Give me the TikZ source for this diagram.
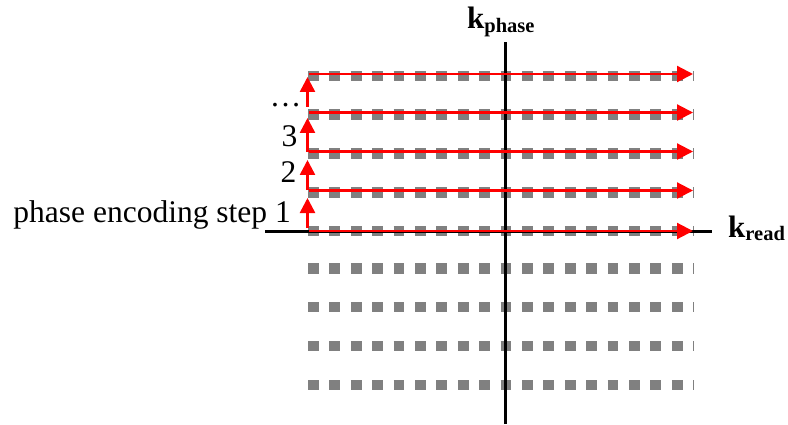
\documentclass[tikz,border=0pt]{standalone}
\usepackage{fontspec}
\setmainfont{Liberation Serif}
\usetikzlibrary{arrows.meta,calc}

\tikzset{
  samplerow/.style={draw=black!50, line width=10.6pt, dash pattern=on 10.7pt off 10.7pt},
  axisline/.style={draw=black, line width=3pt},
  scanline/.style={draw=red, line width=2.2pt, -{Triangle[length=16pt,width=16pt]}},
  stepline/.style={draw=red, line width=2.5pt, -{Triangle[length=15pt,width=15pt]}},
  steplabel/.style={inner sep=0pt, font=\fontsize{31.5}{34}\selectfont},
  axislabel/.style={inner sep=0pt, anchor=base west, font=\fontsize{31}{34}\selectfont\bfseries},
}
\newcommand{\subtext}[1]{\raisebox{-3.5pt}{\fontsize{20.5}{22}\selectfont #1}}

\begin{document}
\begin{tikzpicture}[x=1pt,y=1pt]
\useasboundingbox (0,0) rectangle (788,424);

% grid of k-space sample rows (row 0 lies on the read axis)
\foreach \i/\y in {m4/39, m3/78, m2/117, m1/155.5, 0/193, 1/231.5, 2/270.5, 3/309.5, 4/348} {
  \coordinate (rs\i) at (308,\y);
  \coordinate (re\i) at (694,\y);
  \draw[samplerow] (rs\i) -- (re\i);
}

% axes
\coordinate (ptop) at (505,382);
\coordinate (pbot) at (505,0);
\coordinate (rleft) at (265,193);
\coordinate (rright) at (712,193);
\draw[axisline] (pbot) -- (ptop);
\draw[axisline] (rleft) -- (rright);

\node[axislabel] (kphase) at (467,395) {k\subtext{phase}};
\node[axislabel] (kread) at (728,187) {k\subtext{read}};

% readout lines
\foreach \i/\dy in {0/0, 1/2, 2/2, 3/2, 4/2} {
  \coordinate (a\i) at ($(rs\i)+(1,\dy)$);
  \coordinate (b\i) at ($(re\i)+(-1,\dy)$);
  \draw[scanline] (a\i) -- (b\i);
}

% phase encoding steps
\coordinate (s0) at (307.5,196);
\coordinate (t0) at (307.5,226);
\coordinate (s1) at (307.5,234);
\coordinate (t1) at (307.5,264);
\coordinate (s2) at (307.5,272);
\coordinate (t2) at (307.5,306);
\coordinate (s3) at (307.5,317);
\coordinate (t3) at (307.5,347);
\draw[stepline] (s0) -- (t0);
\draw[stepline] (s1) -- (t1);
\draw[stepline] (s2) -- (t2);
\draw[stepline] (s3) -- (t3);

\node[steplabel, anchor=base east] (lab1) at (291,202) {phase encoding step 1};
\node[steplabel] (lab2) at (288.5,252) {2};
\node[steplabel] (lab3) at (289.5,288) {3};
\node[steplabel, anchor=base] (labdots) at (285.5,317) {…};
\end{tikzpicture}
\end{document}
